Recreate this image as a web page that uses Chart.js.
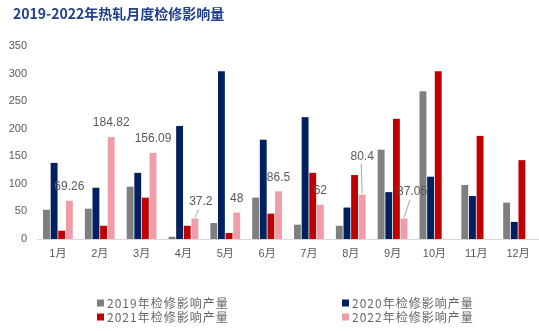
<!DOCTYPE html>
<html>
<head>
<meta charset="utf-8">
<script src="https://cdn.jsdelivr.net/npm/chart.js@4/dist/chart.umd.min.js"></script>
<style>
    html, body { margin: 0; padding: 0; background: #fff; }
    canvas { display: block; }
</style>
</head>
<body>
<canvas id="maintenanceChart" width="539" height="331"></canvas>
<script>
const months = ['1月', '2月', '3月', '4月', '5月', '6月', '7月', '8月', '9月', '10月', '11月', '12月'];
const seriesNames = ['2019年检修影响产量', '2020年检修影响产量', '2021年检修影响产量', '2022年检修影响产量'];
const values2019 = [53, 55, 95, 4, 29, 75, 26, 24, 162, 268, 98, 66];
const values2020 = [138, 93, 120, 205, 304, 180, 221, 57, 85, 113, 78, 31];
const values2021 = [15, 24, 75, 24, 11, 46, 120, 116, 218, 304, 187, 143];
const values2022 = [69.26, 184.82, 156.09, 37.2, 48, 86.5, 62, 80.4, 37.05, null, null, null];
const yTicks = [0, 50, 100, 150, 200, 250, 300, 350];

(function () {
    const colors = ['#7f7f7f', '#002060', '#c00000', '#f19ca7'];
    const cjk = '"Liberation Sans", "Noto Sans CJK SC", sans-serif';

    // labels for the 2022 bars, some pulled aside with a leader line
    const valueLabels = {
        id: 'valueLabels',
        afterDatasetsDraw(chart, args, opts) {
            const ctx = chart.ctx;
            const meta = chart.getDatasetMeta(3);
            ctx.save();
            ctx.font = '12px ' + cjk;
            ctx.fillStyle = '#595959';
            ctx.textAlign = 'center';
            ctx.textBaseline = 'middle';
            values2022.forEach((v, i) => {
                if (v === null) return;
                const bar = meta.data[i];
                const shift = opts.shift[i] || [0, 0];
                const lx = bar.x + shift[0];
                const ly = bar.y - 14 + shift[1];
                if (opts.leader.includes(i)) {
                    ctx.strokeStyle = '#a6a6a6';
                    ctx.lineWidth = 1;
                    ctx.beginPath();
                    if (shift[0] !== 0) {
                        ctx.moveTo(lx - 2, ly + 8);
                    } else {
                        ctx.moveTo(lx - 1, ly + 7);
                    }
                    ctx.lineTo(bar.x, bar.y - 1);
                    ctx.stroke();
                }
                ctx.fillText(String(v), lx, ly);
            });
            ctx.restore();
        }
    };

    // title and the two-column legend
    const frame = {
        id: 'frame',
        afterDraw(chart) {
            const ctx = chart.ctx;
            ctx.save();
            ctx.font = 'bold 14px "Noto Sans CJK SC", sans-serif';
            ctx.fillStyle = '#1f3f8c';
            ctx.textBaseline = 'middle';
            ctx.fillText('2019-2022年热轧月度检修影响量', 13, 14);

            const spots = [[97, 303], [342, 303], [97, 317], [342, 317]];
            ctx.font = '12px "Noto Sans CJK SC", sans-serif';
            ctx.letterSpacing = '1px';
            seriesNames.forEach((name, i) => {
                const [x, y] = spots[i];
                ctx.fillStyle = colors[i];
                ctx.fillRect(x, y - 3.5, 7, 7);
                ctx.fillStyle = '#666666';
                ctx.fillText(name, x + 10, y);
            });
            ctx.restore();
        }
    };

    const ctx = document.getElementById('maintenanceChart');
    new Chart(ctx, {
        type: 'bar',
        data: {
            labels: months,
            datasets: [values2019, values2020, values2021, values2022].map((d, i) => ({
                label: seriesNames[i],
                data: d,
                backgroundColor: colors[i],
                categoryPercentage: 0.73,
                barPercentage: 0.9
            }))
        },
        options: {
            responsive: false,
            animation: false,
            layout: { padding: { top: 46, left: 0, right: 0, bottom: 0 } },
            plugins: {
                legend: { display: false },
                tooltip: { enabled: false },
                valueLabels: {
                    shift: { 3: [6, -3], 7: [0, -24], 8: [8, -13] },
                    leader: [3, 7, 8]
                }
            },
            scales: {
                x: {
                    grid: { display: false, drawTicks: false },
                    border: { display: true, color: '#d9d9d9', width: 1 },
                    ticks: { color: '#595959', font: { size: 11, family: cjk }, padding: 8 },
                    afterFit: s => { s.height = 92; }
                },
                y: {
                    min: 0,
                    max: 350,
                    grid: { display: false, drawTicks: false },
                    border: { display: false },
                    afterBuildTicks: s => { s.ticks = yTicks.map(v => ({ value: v })); },
                    ticks: { color: '#595959', font: { size: 11, family: cjk }, padding: 10 },
                    afterFit: s => { s.width = 37; }
                }
            }
        },
        plugins: [valueLabels, frame]
    });
})();
</script>
</body>
</html>
